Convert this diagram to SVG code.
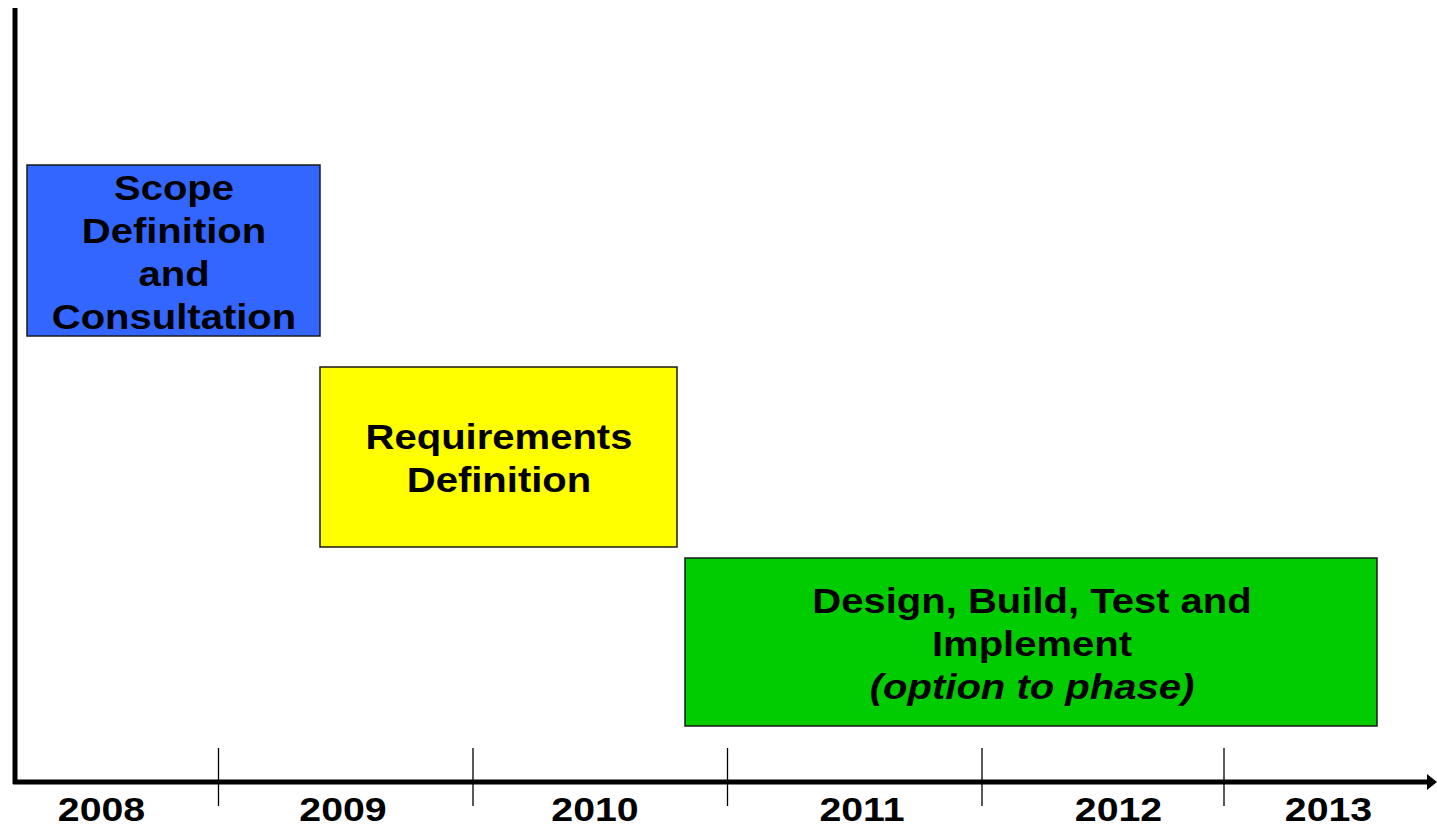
<svg xmlns="http://www.w3.org/2000/svg" width="1437" height="829" viewBox="0 0 1437 829">
<style>
.box{stroke:#1a1a1a;stroke-width:1.5}
.lbl{font-family:"Liberation Sans",Arial,sans-serif;font-weight:bold;font-size:34.5px;fill:#000;text-anchor:middle}
.yr{font-family:"Liberation Sans",Arial,sans-serif;font-weight:bold;font-size:33px;fill:#000;text-anchor:middle}
.it{font-style:italic}
.axis{stroke:#000;stroke-width:5;fill:none}
.tick{stroke:#000;stroke-width:1.3}
</style>
<rect width="1437" height="829" fill="#fff"/>
<g id="connectors">
<line class="axis" x1="15" y1="8" x2="15" y2="784"/>
<line class="axis" x1="13" y1="782" x2="1430" y2="782"/>
<polygon points="1427,774 1437,782 1427,790" fill="#000"/>
<line class="tick" x1="218.5" y1="748" x2="218.5" y2="806"/>
<line class="tick" x1="473" y1="748" x2="473" y2="806"/>
<line class="tick" x1="727.5" y1="748" x2="727.5" y2="806"/>
<line class="tick" x1="982" y1="748" x2="982" y2="806"/>
<line class="tick" x1="1224" y1="748" x2="1224" y2="806"/>
</g>
<g id="years">
<text class="yr" transform="translate(101.5 821) scale(1.19 1)">2008</text>
<text class="yr" transform="translate(343 821) scale(1.19 1)">2009</text>
<text class="yr" transform="translate(595 821) scale(1.19 1)">2010</text>
<text class="yr" transform="translate(862 821) scale(1.19 1)">2011</text>
<text class="yr" transform="translate(1118.5 821) scale(1.19 1)">2012</text>
<text class="yr" transform="translate(1328.5 821) scale(1.19 1)">2013</text>
</g>
<g id="scope">
<rect class="box" x="27" y="165" width="293" height="171" fill="#3366FF"/>
<text class="lbl" transform="translate(174 200) scale(1.16 1)">Scope</text>
<text class="lbl" transform="translate(174 243) scale(1.16 1)">Definition</text>
<text class="lbl" transform="translate(174 286) scale(1.16 1)">and</text>
<text class="lbl" transform="translate(174 329) scale(1.16 1)">Consultation</text>
</g>
<g id="requirements">
<rect class="box" x="320" y="367" width="357" height="180" fill="#FFFF00"/>
<text class="lbl" transform="translate(499 449) scale(1.16 1)">Requirements</text>
<text class="lbl" transform="translate(499 492) scale(1.16 1)">Definition</text>
</g>
<g id="design">
<rect class="box" x="685" y="558" width="692" height="168" fill="#00CC00"/>
<text class="lbl" transform="translate(1032 613) scale(1.16 1)">Design, Build, Test and</text>
<text class="lbl" transform="translate(1032 656) scale(1.16 1)">Implement</text>
<text class="lbl it" transform="translate(1032 699) scale(1.16 1)">(option to phase)</text>
</g>
</svg>
